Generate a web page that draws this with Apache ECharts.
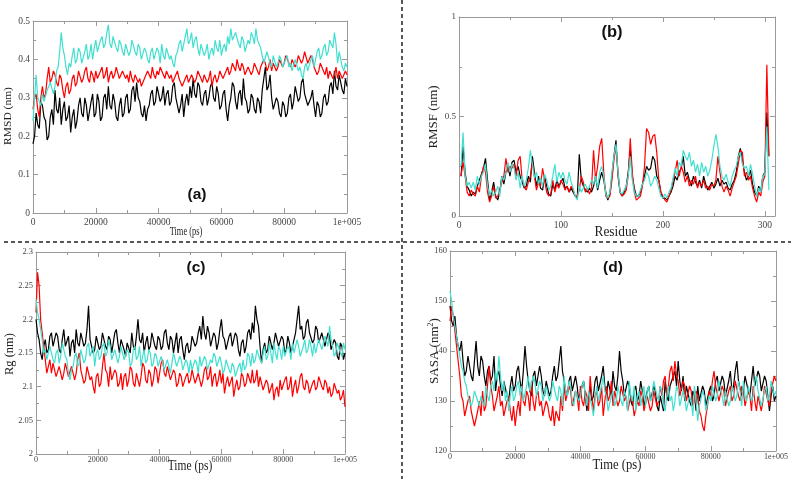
<!DOCTYPE html>
<html>
<head>
<meta charset="utf-8">
<script src="https://cdn.jsdelivr.net/npm/echarts@6/dist/echarts.min.js"></script>
<style>
  html, body { margin: 0; padding: 0; background: #fff; }
  #chart { width: 791px; height: 479px; }
</style>
</head>
<body>
<div id="chart"></div>
<script>
// time axis: one frame every 500 ps, 0 .. 1e5
var times = [];
for (var i = 0; i <= 200; i++) times.push(i * 500);

// (a) RMSD (nm), one row = 10000 ps
var rmsdBlack = [
  0.18,0.2,0.26,0.23,0.22,0.29,0.28,0.25,0.24,0.19,0.2,0.25,0.27,0.23,0.32,0.27,0.26,0.3,0.23,0.27,
  0.29,0.24,0.25,0.28,0.21,0.25,0.27,0.22,0.24,0.28,0.3,0.26,0.25,0.3,0.28,0.24,0.24,0.29,0.31,0.25,
  0.26,0.31,0.29,0.24,0.25,0.3,0.31,0.27,0.33,0.28,0.27,0.31,0.29,0.25,0.24,0.28,0.3,0.25,0.26,0.3,
  0.31,0.26,0.27,0.32,0.33,0.29,0.34,0.3,0.29,0.26,0.25,0.28,0.24,0.27,0.28,0.31,0.32,0.28,0.29,0.33,
  0.33,0.29,0.3,0.33,0.28,0.31,0.32,0.28,0.29,0.33,0.34,0.3,0.3,0.26,0.28,0.31,0.25,0.29,0.31,0.28,
  0.33,0.3,0.35,0.31,0.3,0.34,0.33,0.29,0.28,0.31,0.32,0.28,0.3,0.33,0.34,0.3,0.29,0.33,0.31,0.27,
  0.28,0.31,0.32,0.27,0.24,0.28,0.3,0.34,0.33,0.29,0.27,0.31,0.32,0.28,0.35,0.3,0.29,0.26,0.27,0.31,
  0.3,0.27,0.26,0.3,0.29,0.26,0.32,0.35,0.38,0.32,0.33,0.36,0.3,0.27,0.27,0.3,0.29,0.26,0.25,0.29,
  0.28,0.25,0.26,0.3,0.31,0.27,0.29,0.33,0.33,0.29,0.3,0.34,0.35,0.31,0.31,0.28,0.28,0.3,0.32,0.28,
  0.25,0.29,0.28,0.25,0.26,0.3,0.31,0.28,0.29,0.33,0.34,0.31,0.37,0.33,0.32,0.36,0.36,0.32,0.31,0.35,
  0.33
];
var rmsdRed = [
  0.27,0.3,0.31,0.27,0.25,0.3,0.33,0.3,0.31,0.35,0.38,0.34,0.35,0.37,0.36,0.34,0.33,0.36,0.35,0.32,
  0.3,0.33,0.34,0.31,0.32,0.35,0.36,0.33,0.34,0.37,0.37,0.34,0.35,0.37,0.38,0.35,0.34,0.37,0.36,0.34,
  0.37,0.35,0.35,0.37,0.38,0.35,0.36,0.38,0.34,0.36,0.37,0.35,0.36,0.38,0.38,0.35,0.35,0.37,0.37,0.35,
  0.36,0.34,0.37,0.35,0.34,0.36,0.36,0.34,0.35,0.33,0.33,0.35,0.35,0.37,0.37,0.35,0.38,0.36,0.35,0.37,
  0.36,0.38,0.38,0.36,0.35,0.37,0.37,0.35,0.36,0.34,0.34,0.36,0.37,0.35,0.35,0.33,0.33,0.35,0.36,0.34,
  0.34,0.36,0.36,0.34,0.35,0.37,0.37,0.35,0.34,0.36,0.36,0.34,0.35,0.37,0.33,0.35,0.36,0.34,0.35,0.37,
  0.37,0.35,0.35,0.37,0.38,0.36,0.37,0.39,0.39,0.37,0.4,0.38,0.37,0.39,0.38,0.36,0.36,0.38,0.38,0.36,
  0.37,0.39,0.39,0.37,0.36,0.38,0.38,0.4,0.39,0.37,0.38,0.4,0.37,0.39,0.39,0.37,0.38,0.4,0.4,0.38,
  0.39,0.41,0.41,0.39,0.38,0.4,0.4,0.38,0.39,0.41,0.41,0.39,0.4,0.42,0.42,0.39,0.39,0.41,0.4,0.38,
  0.38,0.36,0.37,0.39,0.39,0.37,0.36,0.38,0.35,0.37,0.37,0.35,0.36,0.38,0.35,0.37,0.37,0.35,0.36,0.37,
  0.36
];
var rmsdCyan = [
  0.24,0.3,0.36,0.3,0.29,0.28,0.31,0.29,0.29,0.32,0.32,0.34,0.34,0.31,0.33,0.37,0.38,0.42,0.47,0.43,
  0.41,0.38,0.36,0.39,0.38,0.41,0.43,0.39,0.4,0.43,0.42,0.39,0.39,0.42,0.44,0.4,0.41,0.44,0.4,0.43,
  0.45,0.42,0.42,0.45,0.46,0.43,0.44,0.47,0.49,0.44,0.43,0.46,0.46,0.43,0.42,0.45,0.44,0.42,0.41,0.44,
  0.44,0.41,0.42,0.45,0.45,0.42,0.41,0.44,0.43,0.4,0.4,0.43,0.42,0.4,0.39,0.42,0.43,0.4,0.4,0.43,
  0.42,0.39,0.44,0.41,0.4,0.43,0.43,0.4,0.41,0.39,0.38,0.41,0.42,0.44,0.45,0.42,0.44,0.46,0.48,0.44,
  0.45,0.47,0.43,0.45,0.46,0.43,0.41,0.44,0.44,0.41,0.42,0.44,0.4,0.42,0.43,0.41,0.45,0.43,0.42,0.45,
  0.41,0.43,0.44,0.42,0.46,0.44,0.48,0.45,0.45,0.47,0.47,0.44,0.43,0.46,0.45,0.42,0.42,0.45,0.44,0.47,
  0.46,0.44,0.48,0.45,0.45,0.43,0.41,0.39,0.39,0.42,0.42,0.39,0.38,0.41,0.41,0.38,0.39,0.41,0.4,0.38,
  0.38,0.4,0.41,0.38,0.39,0.37,0.37,0.4,0.4,0.37,0.38,0.36,0.35,0.38,0.39,0.37,0.37,0.4,0.41,0.38,
  0.4,0.42,0.43,0.4,0.41,0.43,0.44,0.41,0.42,0.45,0.45,0.43,0.47,0.44,0.39,0.42,0.4,0.38,0.37,0.39,
  0.38
];

// (b) RMSF (nm), residues 2, 4, 6 ... 304
var residues = [];
for (var r = 2; r <= 304; r += 2) residues.push(r);
var rmsfBlack = [
  0.2, 0.35, 0.22, 0.15, 0.13,
  0.1, 0.12, 0.11, 0.15, 0.18,
  0.21, 0.24, 0.29, 0.18, 0.08,
  0.12, 0.17, 0.1, 0.08, 0.12,
  0.2, 0.16, 0.22, 0.25, 0.2,
  0.27, 0.28, 0.22, 0.25, 0.2,
  0.17, 0.14, 0.15, 0.2, 0.17,
  0.3, 0.22, 0.15, 0.2, 0.14,
  0.13, 0.2, 0.15, 0.11, 0.1,
  0.16, 0.13, 0.18, 0.15, 0.17,
  0.19, 0.14, 0.15, 0.12, 0.14,
  0.12, 0.1, 0.09, 0.31, 0.18,
  0.15, 0.13, 0.12, 0.14, 0.12,
  0.15, 0.2, 0.13, 0.18, 0.22,
  0.18, 0.12, 0.08, 0.11, 0.2,
  0.3, 0.38, 0.2, 0.12, 0.1,
  0.12, 0.15, 0.22, 0.33, 0.2,
  0.14, 0.1, 0.1, 0.12, 0.16,
  0.2, 0.25, 0.23, 0.24, 0.3,
  0.28, 0.2, 0.18, 0.12, 0.09,
  0.09, 0.08, 0.1, 0.12, 0.15,
  0.2, 0.18, 0.22, 0.24, 0.3,
  0.2, 0.22, 0.18, 0.15, 0.2,
  0.17, 0.15, 0.18, 0.14, 0.2,
  0.16, 0.13, 0.15, 0.17, 0.14,
  0.16, 0.19, 0.15, 0.18, 0.16,
  0.17, 0.14, 0.13, 0.16, 0.18,
  0.22, 0.3, 0.34, 0.28, 0.22,
  0.18, 0.2, 0.23, 0.16, 0.12,
  0.1, 0.15, 0.12, 0.2, 0.22,
  0.52, 0.3
];
var rmsfRed = [
  0.2, 0.27, 0.2, 0.12, 0.1,
  0.13, 0.11, 0.1, 0.15, 0.12,
  0.2, 0.25, 0.22, 0.12, 0.07,
  0.1, 0.15, 0.09, 0.1, 0.13,
  0.17, 0.2, 0.29, 0.22, 0.25,
  0.24, 0.26, 0.2, 0.28, 0.3,
  0.18, 0.15, 0.13, 0.17, 0.2,
  0.27, 0.2, 0.13, 0.17, 0.15,
  0.24, 0.18, 0.12, 0.1, 0.11,
  0.18, 0.12, 0.16, 0.14, 0.18,
  0.16, 0.13, 0.15, 0.12, 0.15,
  0.13, 0.1, 0.1, 0.13, 0.2,
  0.17, 0.12, 0.14, 0.11, 0.14,
  0.33, 0.18, 0.25, 0.35, 0.39,
  0.22, 0.1, 0.09, 0.1, 0.18,
  0.28, 0.35, 0.22, 0.12, 0.1,
  0.11, 0.13, 0.2, 0.39, 0.22,
  0.12, 0.08, 0.09, 0.1, 0.15,
  0.25, 0.44, 0.42, 0.36, 0.4,
  0.41, 0.32, 0.18, 0.12, 0.1,
  0.08, 0.07, 0.1, 0.13, 0.18,
  0.22, 0.28, 0.2, 0.25, 0.22,
  0.17, 0.2, 0.15, 0.18, 0.16,
  0.2, 0.14, 0.17, 0.15, 0.18,
  0.14, 0.15, 0.13, 0.16, 0.15,
  0.18, 0.3, 0.22, 0.15, 0.12,
  0.15, 0.13, 0.1, 0.14, 0.17,
  0.2, 0.26, 0.33, 0.32, 0.2,
  0.22, 0.18, 0.2, 0.14, 0.1,
  0.07, 0.12, 0.1, 0.17, 0.2,
  0.76, 0.3
];
var rmsfCyan = [
  0.25, 0.42, 0.2, 0.15, 0.17,
  0.14, 0.17, 0.13, 0.2, 0.16,
  0.2, 0.22, 0.26, 0.15, 0.1,
  0.13, 0.1, 0.12, 0.15, 0.1,
  0.2, 0.18, 0.22, 0.27, 0.22,
  0.26, 0.24, 0.18, 0.22, 0.14,
  0.2, 0.15, 0.18, 0.24, 0.33,
  0.26, 0.19, 0.22, 0.16, 0.19,
  0.15, 0.21, 0.18, 0.13, 0.15,
  0.2, 0.26, 0.17, 0.22, 0.19,
  0.22, 0.18, 0.16, 0.22, 0.17,
  0.14, 0.1, 0.08, 0.15, 0.12,
  0.14, 0.16, 0.13, 0.15, 0.18,
  0.16, 0.2, 0.14, 0.22, 0.25,
  0.2, 0.11, 0.09, 0.12, 0.22,
  0.3, 0.36, 0.22, 0.12, 0.11,
  0.13, 0.15, 0.2, 0.3, 0.18,
  0.12, 0.1, 0.1, 0.13, 0.16,
  0.18, 0.22, 0.2, 0.15, 0.17,
  0.2, 0.18, 0.14, 0.1, 0.09,
  0.11, 0.09, 0.12, 0.14, 0.19,
  0.24, 0.2, 0.27, 0.25, 0.33,
  0.3, 0.28, 0.32, 0.25, 0.28,
  0.22, 0.26, 0.2, 0.27, 0.22,
  0.25, 0.2, 0.23, 0.28, 0.35,
  0.41, 0.35, 0.25, 0.2, 0.18,
  0.21, 0.17, 0.15, 0.2, 0.23,
  0.25, 0.3, 0.32, 0.26, 0.24,
  0.25, 0.2, 0.26, 0.21, 0.15,
  0.1, 0.14, 0.12, 0.2, 0.21,
  0.45, 0.13
];

// (c) Rg (nm)
var rgBlack = [
  2.2,2.18,2.17,2.15,2.14,2.16,2.17,2.15,2.155,2.175,2.18,2.16,2.16,2.18,2.175,2.155,2.15,2.17,2.185,2.16,
  2.16,2.175,2.145,2.165,2.17,2.15,2.185,2.165,2.16,2.18,2.18,2.16,2.165,2.185,2.22,2.17,2.17,2.15,2.155,2.175,
  2.175,2.155,2.16,2.18,2.18,2.16,2.155,2.175,2.17,2.15,2.165,2.18,2.185,2.165,2.15,2.17,2.17,2.155,2.145,2.165,
  2.165,2.15,2.18,2.16,2.155,2.175,2.2,2.17,2.165,2.18,2.15,2.165,2.175,2.155,2.16,2.18,2.18,2.16,2.155,2.175,
  2.17,2.155,2.16,2.18,2.185,2.165,2.155,2.175,2.17,2.15,2.165,2.18,2.15,2.17,2.175,2.155,2.14,2.16,2.165,2.15,
  2.155,2.175,2.175,2.16,2.165,2.18,2.19,2.17,2.205,2.18,2.17,2.19,2.18,2.16,2.16,2.18,2.175,2.155,2.165,2.185,
  2.2,2.175,2.17,2.155,2.155,2.175,2.18,2.16,2.16,2.18,2.175,2.155,2.145,2.165,2.17,2.15,2.16,2.18,2.185,2.17,
  2.195,2.18,2.22,2.2,2.19,2.16,2.135,2.155,2.165,2.15,2.155,2.175,2.175,2.155,2.165,2.18,2.18,2.16,2.16,2.175,
  2.17,2.15,2.155,2.175,2.165,2.15,2.15,2.17,2.18,2.2,2.22,2.185,2.19,2.17,2.175,2.195,2.2,2.18,2.18,2.165,
  2.17,2.19,2.185,2.165,2.165,2.18,2.18,2.16,2.16,2.18,2.175,2.155,2.155,2.17,2.165,2.145,2.14,2.165,2.16,2.14,
  2.15
];
var rgRed = [
  2.21,2.27,2.25,2.2,2.18,2.16,2.14,2.12,2.13,2.14,2.12,2.135,2.135,2.115,2.115,2.13,2.13,2.11,2.12,2.135,
  2.135,2.115,2.115,2.13,2.13,2.11,2.12,2.14,2.15,2.125,2.125,2.105,2.11,2.13,2.13,2.11,2.115,2.1,2.09,2.115,
  2.12,2.1,2.105,2.13,2.15,2.125,2.12,2.1,2.13,2.11,2.11,2.125,2.12,2.1,2.105,2.12,2.095,2.115,2.12,2.1,
  2.11,2.13,2.125,2.105,2.1,2.12,2.12,2.1,2.115,2.135,2.13,2.11,2.105,2.125,2.12,2.1,2.11,2.13,2.125,2.105,
  2.12,2.135,2.14,2.12,2.115,2.13,2.13,2.11,2.11,2.125,2.12,2.1,2.105,2.12,2.115,2.1,2.1,2.115,2.12,2.105,
  2.11,2.125,2.125,2.105,2.105,2.12,2.12,2.1,2.11,2.125,2.13,2.11,2.115,2.13,2.1,2.115,2.12,2.1,2.11,2.125,
  2.105,2.12,2.09,2.105,2.115,2.1,2.1,2.115,2.085,2.1,2.11,2.095,2.1,2.12,2.115,2.1,2.105,2.12,2.12,2.105,
  2.125,2.105,2.11,2.125,2.1,2.115,2.115,2.095,2.095,2.11,2.105,2.09,2.09,2.105,2.08,2.095,2.1,2.085,2.11,2.095,
  2.095,2.11,2.115,2.095,2.1,2.115,2.085,2.1,2.11,2.09,2.1,2.115,2.12,2.1,2.095,2.11,2.105,2.09,2.09,2.105,
  2.11,2.095,2.1,2.115,2.115,2.1,2.095,2.11,2.105,2.09,2.1,2.085,2.09,2.105,2.105,2.09,2.095,2.08,2.085,2.095,
  2.07
];
var rgCyan = [
  2.23,2.21,2.2,2.185,2.17,2.15,2.155,2.14,2.14,2.16,2.16,2.14,2.135,2.15,2.155,2.135,2.145,2.165,2.165,2.145,
  2.14,2.12,2.11,2.125,2.13,2.145,2.15,2.13,2.135,2.155,2.155,2.135,2.14,2.16,2.165,2.145,2.145,2.16,2.13,2.15,
  2.155,2.14,2.145,2.16,2.165,2.145,2.15,2.17,2.16,2.14,2.14,2.155,2.155,2.135,2.145,2.16,2.16,2.14,2.14,2.155,
  2.15,2.13,2.135,2.155,2.16,2.14,2.145,2.16,2.13,2.145,2.155,2.135,2.14,2.155,2.15,2.13,2.135,2.15,2.145,2.13,
  2.13,2.145,2.145,2.125,2.125,2.14,2.14,2.12,2.135,2.15,2.15,2.13,2.13,2.145,2.14,2.125,2.125,2.14,2.135,2.12,
  2.14,2.125,2.125,2.14,2.135,2.12,2.145,2.13,2.13,2.145,2.14,2.125,2.125,2.14,2.135,2.15,2.145,2.13,2.13,2.145,
  2.135,2.12,2.125,2.14,2.14,2.125,2.12,2.135,2.13,2.115,2.115,2.13,2.135,2.12,2.14,2.125,2.13,2.15,2.145,2.13,
  2.15,2.135,2.14,2.155,2.155,2.14,2.135,2.15,2.16,2.14,2.145,2.165,2.15,2.135,2.165,2.15,2.14,2.16,2.155,2.14,
  2.16,2.145,2.145,2.16,2.155,2.14,2.165,2.15,2.15,2.17,2.16,2.145,2.145,2.16,2.17,2.15,2.155,2.17,2.16,2.145,
  2.165,2.15,2.15,2.17,2.17,2.155,2.155,2.175,2.175,2.16,2.19,2.17,2.16,2.145,2.15,2.165,2.165,2.15,2.145,2.165,
  2.155
];

// (d) SASA (nm^2)
var sasaBlack = [
  149,146,145,147,143,141,140,142,138,135,136,139,139,135,134,138,142,137,135,139,
  138,135,133,136,137,134,135,139,132,135,136,133,131,134,134,131,130,133,135,132,
  133,136,137,134,132,136,141,137,134,132,131,135,136,133,133,137,135,132,131,134,
  134,131,132,135,137,134,135,138,141,136,134,132,131,134,135,132,132,135,133,130,
  130,133,134,131,128,131,133,130,131,134,135,132,132,135,137,133,131,134,134,131,
  136,133,132,135,140,136,134,131,131,134,133,130,129,132,133,130,131,134,132,129,
  129,132,133,130,130,133,132,129,128,131,131,128,134,131,130,133,133,135,136,133,
  138,134,132,135,130,133,133,130,129,132,131,128,133,130,130,133,132,129,129,132,
  133,130,131,134,135,132,132,135,134,131,131,134,136,132,133,136,138,134,134,131,
  132,135,135,132,131,134,137,133,133,136,135,132,132,135,134,131,128,131,133,130,
  131
];
var sasaRed = [
  146,149,147,144,141,138,135,131,130,127,127,130,131,128,128,125,125,128,130,127,
  132,128,129,133,137,133,131,128,128,131,133,129,130,127,127,130,131,128,126,129,
  125,128,130,127,133,130,129,132,131,128,134,130,128,131,132,129,130,127,127,130,
  129,127,126,129,125,128,128,126,131,128,133,130,130,133,132,129,129,132,131,128,
  133,130,129,132,131,128,135,131,128,131,132,129,130,133,127,130,133,130,131,134,
  129,132,132,129,130,133,133,130,131,128,128,131,130,127,127,130,129,132,131,128,
  128,131,131,128,129,132,132,129,130,133,131,134,135,131,133,136,137,134,138,135,
  134,131,131,134,133,130,130,133,132,129,129,132,131,128,127,125,124,127,129,132,
  131,134,136,133,133,130,130,133,132,129,129,132,133,130,131,134,134,131,130,133,
  132,129,129,132,131,128,133,130,128,131,131,128,130,133,133,130,129,132,132,135,
  134
];
var sasaCyan = [
  152,150,147,145,143,141,139,137,136,134,133,131,131,129,130,132,132,130,129,131,
  131,129,133,131,130,133,134,132,136,134,139,135,132,134,130,132,128,131,133,130,
  131,133,134,131,133,130,130,133,135,132,132,135,134,131,131,134,133,130,130,133,
  133,130,131,134,134,131,130,133,132,129,135,132,131,134,133,130,129,132,132,130,
  131,133,134,131,129,132,132,129,127,130,133,130,130,133,135,132,131,128,128,131,
  132,129,130,133,133,130,129,132,131,128,134,131,130,133,128,131,132,129,131,133,
  129,132,133,130,131,134,134,131,130,133,132,129,128,131,133,130,131,128,130,133,
  132,129,129,132,131,128,128,131,130,127,133,130,126,129,129,132,131,128,128,131,
  130,133,133,130,131,134,134,131,129,132,132,129,130,133,133,130,131,134,132,129,
  134,131,130,133,133,130,131,134,135,132,132,129,129,132,133,130,131,134,134,131,
  132
];

var colors = ['#000000', '#ff0000', '#40e0d0'];
var frameColor = '#9a9a9a';
var serif = 'Liberation Serif';

function pairs(xs, ys) {
  return ys.map(function (v, k) { return [xs[k], v]; });
}

function timeLabel(v) {
  return v === 100000 ? '1e+005' : String(v);
}

function baseAxis(g, min, max, interval) {
  return {
    gridIndex: g, type: 'value', min: min, max: max, interval: interval,
    axisLine: { show: true, onZero: false, lineStyle: { color: frameColor, width: 1 } },
    axisTick: { show: true, inside: true, length: 5, lineStyle: { color: frameColor } },
    minorTick: { show: true, splitNumber: 2, length: 3, lineStyle: { color: frameColor } },
    splitLine: { show: false }
  };
}

function frameX(g, min, max, interval, labelSize, margin, fmt) {
  var bottom = Object.assign(baseAxis(g, min, max, interval), {
    position: 'bottom',
    axisLabel: { fontFamily: serif, fontSize: labelSize, color: '#444', margin: margin, showMaxLabel: max % interval === 0, formatter: fmt }
  });
  var top = Object.assign(baseAxis(g, min, max, interval), { position: 'top', axisLabel: { show: false } });
  return [bottom, top];
}

function frameY(g, min, max, interval, labelSize) {
  var left = Object.assign(baseAxis(g, min, max, interval), {
    position: 'left',
    axisLabel: { fontFamily: serif, fontSize: labelSize, color: '#444', margin: 3 }
  });
  var right = Object.assign(baseAxis(g, min, max, interval), { position: 'right', axisLabel: { show: false } });
  return [left, right];
}

var xAxes = [].concat(
  frameX(0, 0, 100000, 20000, 9.5, 4, timeLabel),
  frameX(1, 0, 310, 100, 9.5, 4),
  frameX(2, 0, 100000, 20000, 8, 2, timeLabel),
  frameX(3, 0, 100000, 20000, 8, 2, timeLabel)
);
var yAxes = [].concat(
  frameY(0, 0, 0.5, 0.1, 9.5),
  frameY(1, 0, 1, 0.5, 9),
  frameY(2, 2, 2.3, 0.05, 8.5),
  frameY(3, 120, 160, 10, 8.5)
);

var panels = [
  { g: 0, x: times, ys: [rmsdBlack, rmsdRed, rmsdCyan] },
  { g: 1, x: residues, ys: [rmsfBlack, rmsfRed, rmsfCyan] },
  { g: 2, x: times, ys: [rgBlack, rgRed, rgCyan] },
  { g: 3, x: times, ys: [sasaBlack, sasaRed, sasaCyan] }
];
var series = [];
panels.forEach(function (p) {
  p.ys.forEach(function (ys, k) {
    series.push({
      type: 'line', xAxisIndex: p.g * 2, yAxisIndex: p.g * 2,
      data: pairs(p.x, ys), showSymbol: false, symbol: 'none',
      lineStyle: { color: colors[k], width: 1.2 }, itemStyle: { color: colors[k] },
      silent: true
    });
  });
});

function panelTag(text, x, y, size) {
  return {
    type: 'text', x: x, y: y,
    style: { text: text, fontFamily: 'Liberation Sans', fontWeight: 'bold', fontSize: size, fill: '#111', align: 'center', verticalAlign: 'middle' }
  };
}

// axis titles: the source figure is slightly squeezed sideways, hence the scale
function axisTitle(text, x, y, size, sx, vertical, rich) {
  return {
    type: 'text', x: x, y: y,
    rotation: vertical ? Math.PI / 2 : 0,
    scaleX: vertical ? 1 : sx, scaleY: vertical ? sx : 1,
    style: { text: text, fontFamily: serif, fontSize: size, fill: '#222', align: 'center', verticalAlign: 'middle', rich: rich }
  };
}

var chart = echarts.init(document.getElementById('chart'));
chart.setOption({
  animation: false,
  backgroundColor: '#fff',
  grid: [
    { left: 33, top: 21, width: 314, height: 192 },
    { left: 459, top: 17, width: 316, height: 199 },
    { left: 36, top: 252, width: 309, height: 202 },
    { left: 450, top: 251, width: 326, height: 200 }
  ],
  xAxis: xAxes,
  yAxis: yAxes,
  series: series,
  graphic: [
    { type: 'line', shape: { x1: 402, y1: 0, x2: 402, y2: 479 },
      style: { stroke: '#222', lineWidth: 1.5, lineDash: [4, 3] } },
    { type: 'line', shape: { x1: 4, y1: 242, x2: 791, y2: 242 },
      style: { stroke: '#222', lineWidth: 1.5, lineDash: [4, 3] } },
    panelTag('(a)', 197, 195, 15.5),
    panelTag('(b)', 612, 32, 16.5),
    panelTag('(c)', 196, 268, 15.5),
    panelTag('(d)', 613, 268, 15.5),
    axisTitle('RMSD (nm)', 8, 116, 11.5, 0.9, true),
    axisTitle('Time (ps)', 186, 232, 12, 0.7, false),
    axisTitle('RMSF (nm)', 434, 117, 13, 0.95, true),
    axisTitle('Residue', 616, 232, 15, 0.89, false),
    axisTitle('Rg (nm)', 10, 354, 12.5, 0.95, true),
    axisTitle('Time (ps)', 190, 466, 15.5, 0.74, false),
    axisTitle('SASA (nm{sup|2})', 435, 351, 13, 0.95, true,
      { sup: { fontFamily: serif, fontSize: 8, fill: '#222', padding: [0, 0, 8, 0] } }),
    axisTitle('Time (ps)', 617, 465, 15, 0.84, false)
  ]
});
</script>
</body>
</html>
